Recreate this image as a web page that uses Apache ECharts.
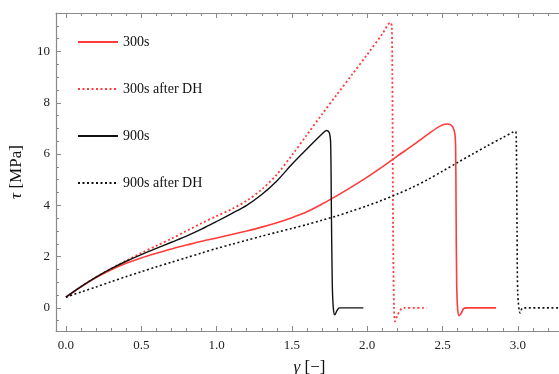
<!DOCTYPE html>
<html>
<head>
<meta charset="utf-8">
<script src="https://cdn.jsdelivr.net/npm/echarts@6/dist/echarts.min.js"></script>
<style>html,body{margin:0;padding:0;background:#fff}#c{width:559px;height:374px}</style>
</head>
<body>
<div id="c"></div>
<script>
// ---- data (gamma [-], tau [MPa]) ----
const seriesNames = ['300s', '300s after DH', '900s', '900s after DH'];
const s300 = [[0,0.42],[0.1,0.82],[0.2,1.18],[0.3,1.49],[0.4,1.74],[0.5,1.95],[0.6,2.13],[0.7,2.3],[0.8,2.45],[0.9,2.6],[1.0,2.73],[1.1,2.86],[1.2,3.0],[1.3,3.15],[1.4,3.32],[1.5,3.52],[1.6,3.75],[1.7,4.05],[1.8,4.38],[1.9,4.73],[2.0,5.1],[2.1,5.5],[2.2,5.92],[2.3,6.33],[2.4,6.76],[2.48,7.08],[2.53,7.17],[2.555,7.14],[2.57,7.03],[2.582,6.8],[2.587,6.3],[2.59,4.0],[2.594,1.0],[2.6,0.0],[2.61,-0.3],[2.625,-0.2],[2.64,-0.03],[2.66,0],[2.855,0]];
const s300dh = [[0,0.42],[0.1,0.83],[0.2,1.2],[0.3,1.53],[0.4,1.84],[0.5,2.14],[0.6,2.42],[0.7,2.7],[0.8,3.0],[0.9,3.3],[1.0,3.58],[1.1,3.85],[1.2,4.18],[1.3,4.62],[1.4,5.2],[1.5,5.95],[1.6,6.75],[1.7,7.55],[1.8,8.33],[1.9,9.1],[2.0,9.88],[2.1,10.68],[2.155,11.13],[2.163,11.0],[2.167,9.0],[2.172,3.0],[2.178,0],[2.185,-0.53],[2.2,-0.3],[2.22,-0.08],[2.24,0],[2.395,0]];
const s900 = [[0,0.42],[0.1,0.83],[0.2,1.2],[0.3,1.53],[0.4,1.82],[0.5,2.08],[0.6,2.32],[0.7,2.56],[0.8,2.8],[0.9,3.07],[1.0,3.37],[1.1,3.68],[1.2,4.0],[1.3,4.42],[1.4,4.95],[1.5,5.6],[1.6,6.2],[1.7,6.78],[1.73,6.92],[1.748,6.84],[1.757,6.5],[1.762,4.0],[1.768,1.0],[1.775,0],[1.785,-0.27],[1.8,-0.1],[1.815,0],[1.975,0]];
const s900dh = [[0,0.42],[0.1,0.62],[0.2,0.82],[0.3,1.02],[0.4,1.22],[0.5,1.41],[0.6,1.6],[0.7,1.78],[0.8,1.96],[0.9,2.14],[1.0,2.32],[1.1,2.48],[1.2,2.64],[1.3,2.8],[1.4,2.95],[1.5,3.1],[1.6,3.25],[1.7,3.42],[1.8,3.59],[1.9,3.78],[2.0,3.98],[2.1,4.2],[2.2,4.44],[2.3,4.7],[2.4,5.0],[2.5,5.33],[2.6,5.67],[2.7,6.0],[2.8,6.33],[2.9,6.64],[2.97,6.86],[2.985,6.88],[2.99,6.5],[2.995,3.0],[3.0,0.5],[3.015,-0.2],[3.025,-0.05],[3.035,0],[3.3,0]];
const xMajor = [0,0.5,1.0,1.5,2.0,2.5,3.0];
const xMinor = [0.1,0.2,0.3,0.4,0.6,0.7,0.8,0.9,1.1,1.2,1.3,1.4,1.6,1.7,1.8,1.9,2.1,2.2,2.3,2.4,2.6,2.7,2.8,2.9,3.1,3.2];
const yMajor = [0,2,4,6,8,10];
const yMinor = [-0.5,0.5,1,1.5,2.5,3,3.5,4.5,5,5.5,6.5,7,7.5,8.5,9,9.5,10.5,11];

const FONT = 'Liberation Serif';
const AX = '#8a8a8a';
const RED = '#ff3b3b';
const BLK = '#111111';
const XMIN = -0.066, XMAX = 3.3, YMIN = -0.9, YMAX = 11.5;

function xAx(pos, values, len, showLine, showLabel, extra) {
  return Object.assign({
    type: 'value', min: XMIN, max: XMAX, position: pos,
    axisLine: { show: showLine, onZero: false, lineStyle: { color: AX, width: 1.2 } },
    axisTick: { show: true, inside: true, length: len, customValues: values, lineStyle: { color: AX, width: 1 } },
    axisLabel: { show: showLabel, customValues: values, formatter: v => v.toFixed(1), fontFamily: FONT, fontSize: 13, color: '#222', margin: 8 },
    splitLine: { show: false }
  }, extra || {});
}
function yAx(pos, values, len, showLine, showLabel, extra) {
  return Object.assign({
    type: 'value', min: YMIN, max: YMAX, position: pos,
    axisLine: { show: showLine, onZero: false, lineStyle: { color: AX, width: 1.2 } },
    axisTick: { show: true, inside: true, length: len, customValues: values, lineStyle: { color: AX, width: 1 } },
    axisLabel: { show: showLabel, customValues: values, formatter: v => String(v), fontFamily: FONT, fontSize: 13, color: '#222', margin: 6 },
    splitLine: { show: false }
  }, extra || {});
}

const chart = echarts.init(document.getElementById('c'), null, { renderer: 'canvas' });
const styles = [
  { color: RED, type: 'solid', width: 1.6 },
  { color: RED, type: [2, 2.5], width: 1.8 },
  { color: BLK, type: 'solid', width: 1.4 },
  { color: BLK, type: [2, 2.5], width: 1.6 }
];
const datas = [s300, s300dh, s900, s900dh];
chart.setOption({
  animation: false,
  backgroundColor: '#fff',
  grid: { left: 56, top: 13, width: 507, height: 318, containLabel: false, outerBoundsMode: 'none' },
  legend: {
    orient: 'vertical', left: 77, top: 35, padding: 0,
    itemWidth: 40, itemHeight: 14, itemGap: 33,
    data: seriesNames,
    itemStyle: { opacity: 0 },
    textStyle: { fontFamily: FONT, fontSize: 14, color: '#111' }
  },
  xAxis: [
    xAx('bottom', xMajor, 5, true, true, {
      name: '{i|γ} [−]', nameLocation: 'middle', nameGap: 28,
      nameTextStyle: { fontFamily: FONT, fontSize: 17, color: '#111', rich: { i: { fontFamily: FONT, fontSize: 17, fontStyle: 'italic', color: '#111' } } }
    }),
    xAx('bottom', xMinor, 3, false, false),
    xAx('top', xMajor, 5, true, false),
    xAx('top', xMinor, 3, false, false)
  ],
  yAxis: [
    yAx('left', yMajor, 5, true, true, {
      name: '{i|τ} [MPa]', nameLocation: 'middle', nameGap: 31, nameRotate: 90,
      nameTextStyle: { fontFamily: FONT, fontSize: 17, color: '#111', rich: { i: { fontFamily: FONT, fontSize: 17, fontStyle: 'italic', color: '#111' } } }
    }),
    yAx('left', yMinor, 3, false, false)
  ],
  series: seriesNames.map((n, i) => ({
    name: n, type: 'line', xAxisIndex: 0, yAxisIndex: 0,
    data: datas[i], symbol: 'none', showSymbol: false,
    smooth: 0.3,
    lineStyle: styles[i], itemStyle: { color: styles[i].color },
    clip: true
  }))
});
</script>
</body>
</html>
